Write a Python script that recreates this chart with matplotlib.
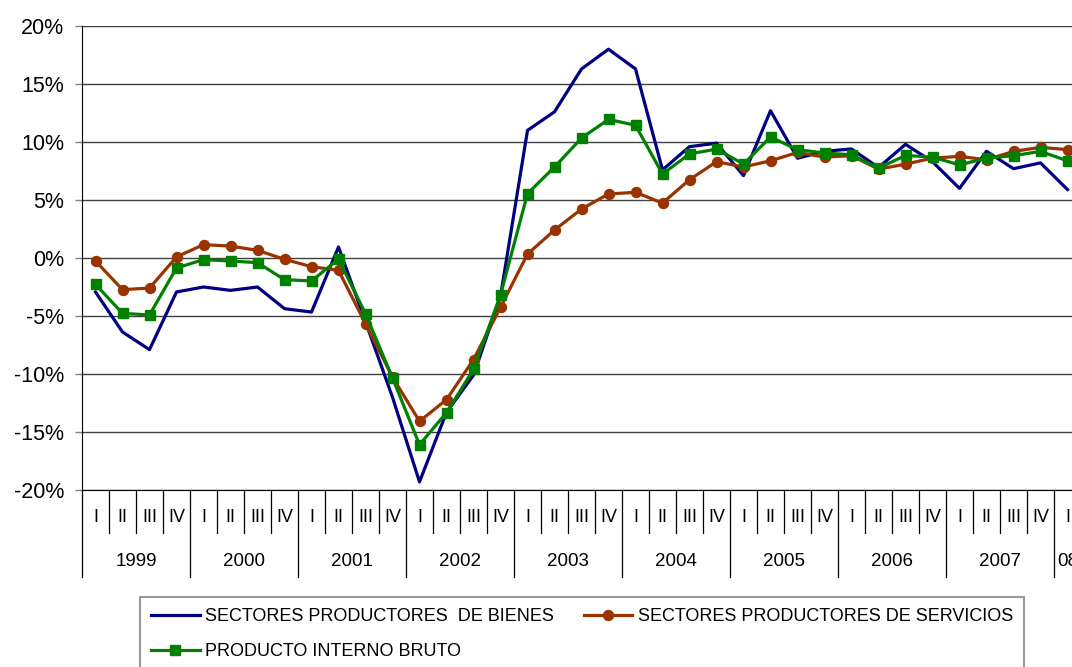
import matplotlib
matplotlib.use('Agg')
import matplotlib.pyplot as plt
from matplotlib.transforms import blended_transform_factory

plt.rcParams['font.family'] = ['Liberation Sans', 'DejaVu Sans']

years = ['1999', '2000', '2001', '2002', '2003', '2004', '2005', '2006', '2007', '08']
quarters = ['I', 'II', 'III', 'IV'] * 9 + ['I']

bienes = [-2.93, -6.38, -7.90, -2.93, -2.50, -2.79, -2.50, -4.37, -4.66, 0.95,
          -5.5, -12.0, -19.3, -13.3, -10.1, -3.3, 11.0, 12.6, 16.3, 18.0,
          16.3, 7.6, 9.6, 9.9, 7.1, 12.7, 8.6, 9.2, 9.4, 7.8,
          9.8, 8.3, 6.0, 9.2, 7.7, 8.2, 5.9]
servicios = [-0.26, -2.73, -2.59, 0.09, 1.15, 1.03, 0.66, -0.11, -0.75, -1.06,
             -5.66, -10.26, -14.08, -12.21, -8.76, -4.25, 0.34, 2.41, 4.22, 5.52,
             5.66, 4.74, 6.75, 8.30, 7.85, 8.38, 9.10, 8.70, 8.82, 7.66,
             8.09, 8.61, 8.76, 8.47, 9.19, 9.54, 9.34]
pib = [-2.27, -4.77, -4.91, -0.86, -0.14, -0.26, -0.40, -1.87, -1.98, -0.09,
       -4.80, -10.34, -16.09, -13.33, -9.60, -3.19, 5.55, 7.84, 10.34, 11.95,
       11.44, 7.24, 8.97, 9.39, 8.10, 10.43, 9.34, 9.05, 8.90, 7.75,
       8.84, 8.70, 8.03, 8.61, 8.82, 9.19, 8.38]

labels = ['SECTORES PRODUCTORES  DE BIENES', 'SECTORES PRODUCTORES DE SERVICIOS',
          'PRODUCTO INTERNO BRUTO']
yticks = [-20, -15, -10, -5, 0, 5, 10, 15, 20]

W, H = 1072, 667
fig = plt.figure(figsize=(W / 100, H / 100), dpi=100)
left, right, top, bottom = 82, 1081, 26, 490
ax = fig.add_axes([left / W, 1 - bottom / H, (right - left) / W, (bottom - top) / H])

n = len(quarters)
x = list(range(n))
l1, = ax.plot(x, bienes, color='#000080', lw=2.3, zorder=3)
l2, = ax.plot(x, servicios, color='#993300', lw=2.3, marker='o', ms=7.2, zorder=4)
l3, = ax.plot(x, pib, color='#008000', lw=2.3, marker='s', ms=6.5, zorder=5)

ax.set_xlim(-0.5, n - 0.5)
ax.set_ylim(-20, 20)
ax.set_yticks(yticks)
ax.set_yticklabels([f'{v}%' for v in yticks], fontsize=15.5)
ax.yaxis.grid(True, color='#404040', lw=1.0)
ax.set_axisbelow(True)
ax.tick_params(axis='y', direction='out', length=5, width=1, color='#808080', pad=8)
ax.set_xticks([])
for s in ['top', 'right']:
    ax.spines[s].set_visible(False)
ax.spines['left'].set_color('black')
ax.spines['bottom'].set_color('black')

# category axis
trans = blended_transform_factory(ax.transData, ax.transAxes)
ah = bottom - top
q_len = 43 / ah
y_len = 87 / ah
for i in range(1, n + 1):
    b = i - 0.5
    is_year = (i % 4 == 0)
    ax.plot([b, b], [0, -(y_len if is_year else q_len)], transform=trans,
            color='black', lw=0.9, clip_on=False)
ax.plot([-0.5, -0.5], [0, -y_len], transform=trans, color='black', lw=0.9, clip_on=False)
for i, q in enumerate(quarters):
    ax.text(i, -28 / ah, q, transform=trans, ha='center', va='center', fontsize=13)
for k, yname in enumerate(years):
    if k < 9:
        cx = 4 * k + 1.5
    else:
        cx = 36
    ax.text(cx, -72 / ah, yname, transform=trans, ha='center', va='center', fontsize=13.5)

leg = fig.legend([l1, l3, l2], [labels[0], labels[2], labels[1]], loc='upper left',
                 bbox_to_anchor=(140 / W, 1 - 597 / H), ncol=2, fontsize=13,
                 frameon=True, fancybox=False, handlelength=2.7, handletextpad=0.3,
                 columnspacing=1.65, labelspacing=1.0, borderpad=0.6, borderaxespad=0)
leg.get_frame().set_edgecolor('#808080')
leg.get_frame().set_linewidth(1.5)

fig.savefig('out.png', dpi=100)
